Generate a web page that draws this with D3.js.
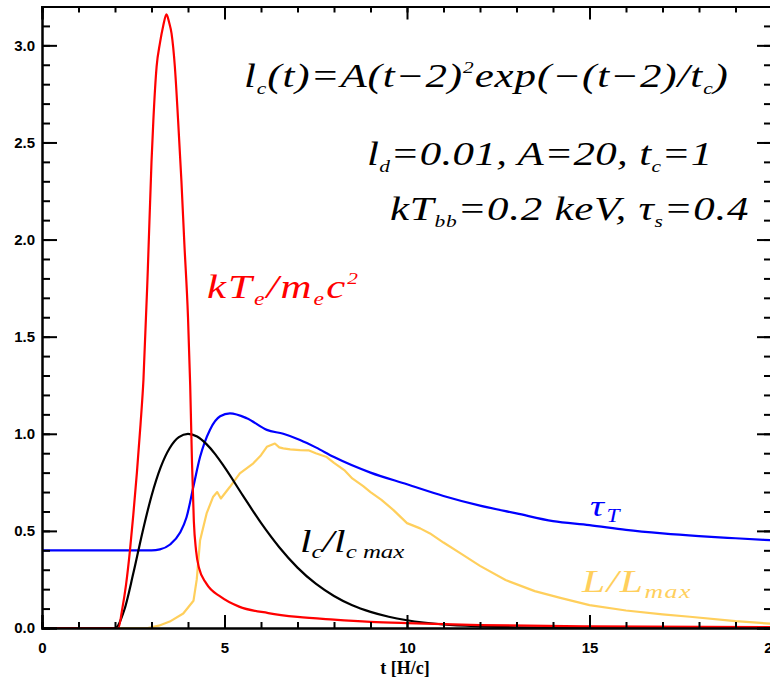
<!DOCTYPE html>
<html><head><meta charset="utf-8">
<script src="https://cdn.jsdelivr.net/npm/d3@7"></script>
<style>
body{margin:0;background:#fff;}
svg{display:block;}
.ax text{font-family:"Liberation Sans",Arial,sans-serif;font-weight:bold;font-size:15px;fill:#000;}
.ann{font-family:"Liberation Serif","DejaVu Serif",serif;font-style:italic;}
</style></head>
<body><svg id="c" width="770" height="682"></svg>
<script>
// ---- data ----
const xTicks = [0, 5, 10, 15, 20];
const yTicks = [0.0, 0.5, 1.0, 1.5, 2.0, 2.5, 3.0];

// l_c / l_c max (black)
const lcT = [0, 1, 2, 2.25, 2.5, 2.75, 3, 3.25, 3.5, 3.75, 4, 4.25, 4.5, 4.75, 5, 5.5, 6, 6.5, 7, 7.5, 8, 8.5, 9, 9.5, 10, 11, 12, 13, 14, 16, 18, 20];
const lcV = [0, 0, 0, 0.090, 0.280, 0.491, 0.680, 0.827, 0.927, 0.983, 1.000, 0.986, 0.948, 0.894, 0.828, 0.683, 0.541, 0.416, 0.311, 0.228, 0.165, 0.117, 0.083, 0.058, 0.040, 0.018, 0.0084, 0.0037, 0.0016, 0.0003, 0.0001, 0];

// kT_e / m_e c^2 (red)
const teT = [0, 1, 2.0, 2.09, 2.2, 2.3, 2.41, 2.5, 2.6, 2.7, 2.78, 2.9, 3.0, 3.05, 3.14, 3.23, 3.32, 3.41, 3.48, 3.55, 3.64, 3.73, 3.82, 3.9, 4.0, 4.06, 4.11, 4.16, 4.22, 4.3, 4.5, 4.9, 5.4, 6.2, 7.0, 8, 9, 10, 12, 15, 20];
const teV = [0, 0, 0, 0, 0.10, 0.22, 0.40, 0.58, 0.80, 1.05, 1.28, 1.85, 2.40, 2.61, 2.89, 3.01, 3.10, 3.16, 3.12, 3.06, 2.89, 2.61, 2.30, 1.98, 1.60, 1.25, 0.85, 0.55, 0.40, 0.31, 0.23, 0.16, 0.11, 0.077, 0.057, 0.043, 0.032, 0.025, 0.015, 0.008, 0.004];

// tau_T (blue)
const tauT = [0, 1, 2, 3, 3.23, 3.51, 3.78, 3.96, 4.15, 4.33, 4.6, 4.88, 5.15, 5.61, 6.16, 6.61, 7.07, 7.5, 8, 9, 10, 11, 12, 13, 14, 15, 16, 17, 18, 19, 20];
const tauV = [0.4, 0.4, 0.4, 0.4, 0.405, 0.43, 0.49, 0.57, 0.73, 0.88, 1.02, 1.09, 1.105, 1.08, 1.02, 1.00, 0.968, 0.93, 0.88, 0.80, 0.74, 0.68, 0.63, 0.59, 0.55, 0.53, 0.505, 0.487, 0.473, 0.462, 0.452];

// L / L_max (orange)
const lumT = [0, 1, 2, 2.9, 3.2, 3.5, 3.87, 4.15, 4.24, 4.33, 4.51, 4.69, 4.8, 4.9, 5.15, 5.42, 5.79, 6.0, 6.16, 6.38, 6.5, 6.61, 6.8, 7.07, 7.3, 7.5, 7.8, 8.0, 8.3, 8.5, 8.8, 9.0, 9.3, 9.63, 10, 10.36, 10.63, 11, 11.5, 12, 12.7, 13.5, 14.2, 15, 16, 17, 17.75, 19, 20];
const lumV = [0, 0, 0, 0, 0.012, 0.033, 0.075, 0.14, 0.25, 0.45, 0.59, 0.676, 0.70, 0.667, 0.727, 0.796, 0.848, 0.89, 0.933, 0.95, 0.93, 0.925, 0.92, 0.916, 0.915, 0.90, 0.88, 0.85, 0.81, 0.77, 0.73, 0.70, 0.66, 0.607, 0.54, 0.513, 0.487, 0.44, 0.38, 0.32, 0.247, 0.19, 0.155, 0.118, 0.09, 0.07, 0.058, 0.035, 0.022];

// ---- layout ----
const svg = d3.select("#c");
const L = 42, R = 772, T = 6.5, B = 628;
const x = d3.scaleLinear().domain([0, 20]).range([L, R]);
const y = d3.scaleLinear().domain([0, 3.2]).range([B, T]);

svg.append("defs").append("clipPath").attr("id","clip")
  .append("rect").attr("x",L).attr("y",T).attr("width",R-L).attr("height",B-T);

const g = svg.append("g").attr("clip-path","url(#clip)");
function draw(ts, vs, color, curve){
  const pts = ts.map((t,i)=>[t, vs[i]]);
  const line = d3.line().x(d=>x(d[0])).y(d=>y(d[1])).curve(curve);
  g.append("path").attr("d", line(pts)).attr("fill","none")
    .attr("stroke", color).attr("stroke-width", 2.2).attr("stroke-linejoin","round");
}
draw(lumT, lumV, "#ffcf5c", d3.curveLinear);
draw(tauT, tauV, "#0000ff", d3.curveMonotoneX);
draw(lcT, lcV, "#000000", d3.curveMonotoneX);
draw(teT, teV, "#ff0000", d3.curveMonotoneX);

// ---- axes ----
const xMinor = d3.range(0, 21, 1);
const yMinor = d3.range(0, 3.21, 0.1);
function styleAx(sel){ sel.select(".domain").attr("stroke","#000").attr("stroke-width",2);
  sel.selectAll(".tick line").attr("stroke","#000").attr("stroke-width",2); }

svg.append("g").attr("class","ax").attr("transform",`translate(0,${B})`)
  .call(d3.axisBottom(x).tickValues(xMinor).tickSize(-6).tickFormat("")).call(styleAx);
svg.append("g").attr("class","ax").attr("transform",`translate(0,${B})`)
  .call(d3.axisBottom(x).tickValues(xTicks).tickSize(-13).tickPadding(14).tickFormat(d3.format("d"))).call(styleAx);
svg.append("g").attr("class","ax").attr("transform",`translate(0,${T})`)
  .call(d3.axisTop(x).tickValues(xMinor).tickSize(-6).tickFormat("")).call(styleAx);
svg.append("g").attr("class","ax").attr("transform",`translate(0,${T})`)
  .call(d3.axisTop(x).tickValues(xTicks).tickSize(-13).tickFormat("")).call(styleAx);

svg.append("g").attr("class","ax").attr("transform",`translate(${L},0)`)
  .call(d3.axisLeft(y).tickValues(yMinor).tickSize(-8).tickFormat("")).call(styleAx);
svg.append("g").attr("class","ax").attr("transform",`translate(${L},0)`)
  .call(d3.axisLeft(y).tickValues(yTicks).tickSize(-15).tickPadding(7).tickFormat(d3.format(".1f"))).call(styleAx);
svg.append("g").attr("class","ax").attr("transform",`translate(${R},0)`)
  .call(d3.axisRight(y).tickValues(yMinor).tickSize(-8).tickFormat("")).call(styleAx);
svg.append("g").attr("class","ax").attr("transform",`translate(${R},0)`)
  .call(d3.axisRight(y).tickValues(yTicks).tickSize(-15).tickFormat("")).call(styleAx);

svg.append("text").attr("x",(L+R)/2 - 2).attr("y",674)
  .attr("text-anchor","middle")
  .style("font-family","'Liberation Serif','DejaVu Serif',serif").style("font-weight","bold").style("font-size","18px")
  .text("t [H/c]");

// ---- annotations ----
function rich(xp, yp, size, color, parts, targetW, subK){
  const t = svg.append("text").attr("class","ann").attr("x",xp).attr("y",yp)
    .attr("fill",color).style("font-size",size+"px");
  let shift = 0, n = 0;
  parts.forEach(p=>{
    const [txt, kind] = Array.isArray(p) ? p : [p, "n"];
    let target = 0, fs = size;
    if(kind==="sub"){ target = size*0.2; fs = size*subK; }
    if(kind==="sup"){ target = -size*0.42; fs = size*0.5; }
    t.append("tspan").attr("dy", target - shift).style("font-size", fs+"px").text(txt);
    shift = target; n += txt.length;
  });
  // fit to the reference width: horizontal stretch plus letter spacing
  const w0 = t.node().getBBox().width;
  const s = Math.max(1, Math.min(1.3, targetW / w0));
  const ls = Math.max(0, (targetW / s - w0) / Math.max(1, n - 1));
  t.style("letter-spacing", ls + "px");
  t.attr("transform", `translate(${xp},0) scale(${s},1) translate(${-xp},0)`);
  return t;
}
rich(244, 87, 33, "#000", ["l", ["c","sub"], "(t)=A(t\u22122)", ["2","sup"], "exp(\u2212(t\u22122)/t", ["c","sub"], ")"], 484, 0.5);
rich(367, 165, 33, "#000", ["l", ["d","sub"], "=0.01,  A=20,  t", ["c","sub"], "=1"], 346, 0.5);
rich(390, 220, 33, "#000", ["kT", ["bb","sub"], "=0.2  keV,  \u03c4", ["s","sub"], "=0.4"], 360, 0.5);
rich(207, 298, 33, "#ff0000", ["kT", ["e","sub"], "/m", ["e","sub"], "c", ["2","sup"]], 151, 0.55);
rich(300, 552, 32, "#000", ["l", ["c","sub"], "/l", ["c max","sub"]], 105, 0.6);
rich(590, 516, 30, "#0000ff", ["\u03c4", ["T","sub"]], 32, 0.6);
rich(582, 592, 32, "#ffcf5c", ["L/L", ["max","sub"]], 110, 0.62);
</script></body></html>
